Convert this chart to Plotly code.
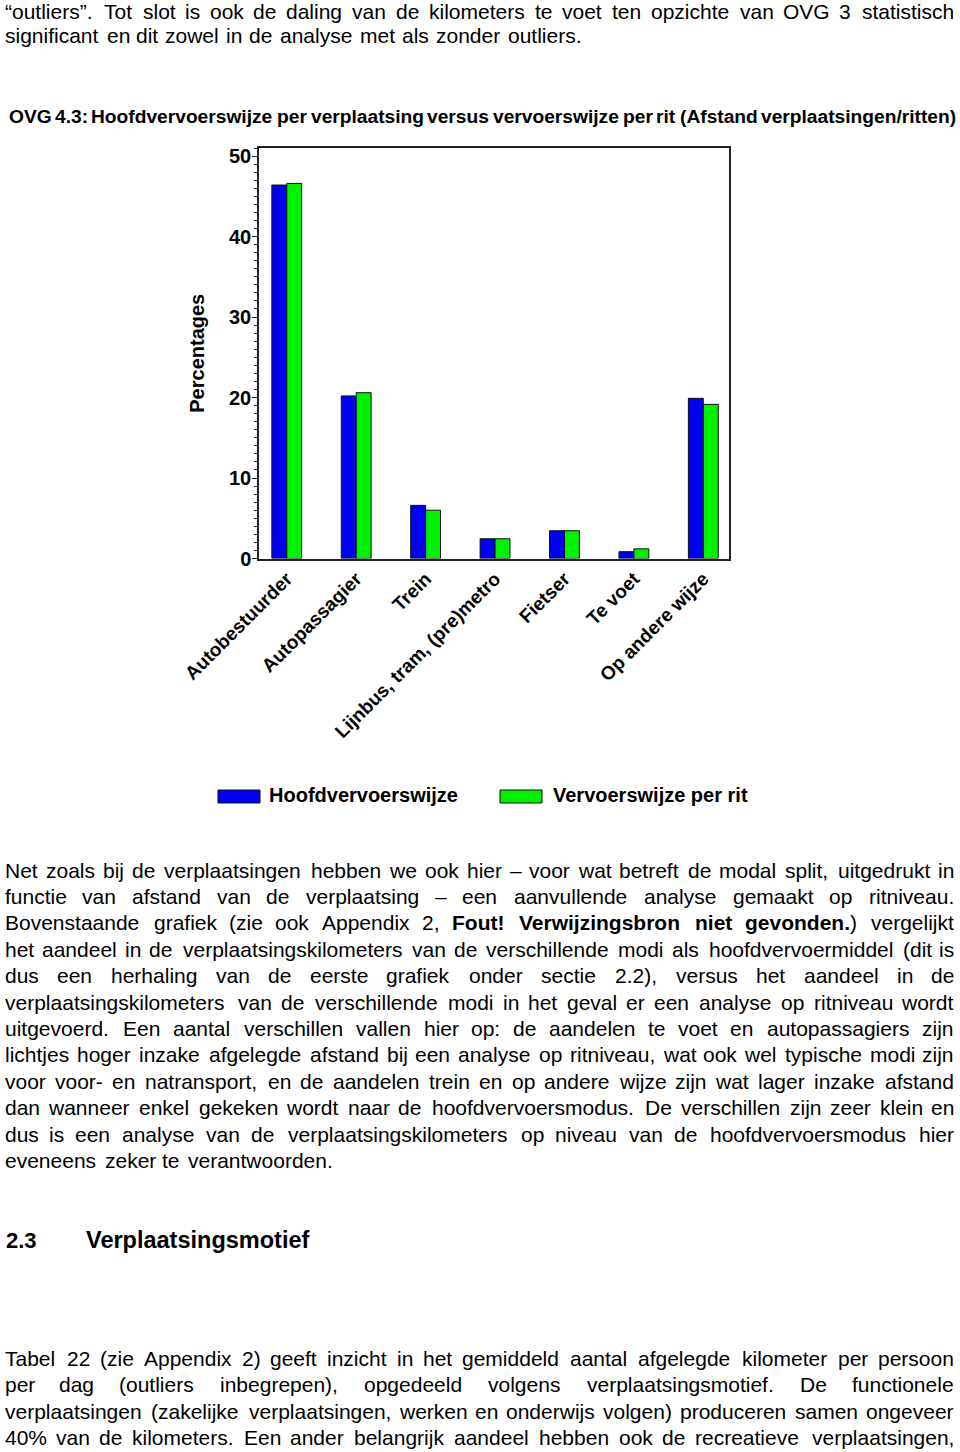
import plotly.graph_objects as go

W, H = 960, 1452

# ---------------- chart data ----------------
categories = ["Autobestuurder", "Autopassagier", "Trein", "Lijnbus, tram, (pre)metro",
              "Fietser", "Te voet", "Op andere wijze"]
hoofdvervoerswijze = [46.4, 20.2, 6.6, 2.45, 3.45, 0.85, 19.9]
vervoerswijze_per_rit = [46.6, 20.6, 6.0, 2.45, 3.45, 1.2, 19.15]
series_names = ["Hoofdvervoerswijze", "Vervoerswijze per rit"]
y_tick_values = [0, 10, 20, 30, 40, 50]
y_axis_title = "Percentages"
chart_title = ("OVG 4.3: Hoofdvervoerswijze per verplaatsing versus vervoerswijze "
               "per rit (Afstand verplaatsingen/ritten)")

# ---------------- page text ----------------
top_lines = [
    "“outliers”. Tot slot is ook de daling van de kilometers te voet ten opzichte van OVG 3 statistisch",
    "significant en dit zowel in de analyse met als zonder outliers.",
]
para1_lines = [
    "Net zoals bij de verplaatsingen hebben we ook hier – voor wat betreft de modal split, uitgedrukt in",
    "functie van afstand van de verplaatsing – een aanvullende analyse gemaakt op ritniveau.",
    "Bovenstaande grafiek (zie ook Appendix 2, <b>Fout! Verwijzingsbron niet gevonden.</b>) vergelijkt",
    "het aandeel in de verplaatsingskilometers van de verschillende modi als hoofdvervoermiddel (dit is",
    "dus een herhaling van de eerste grafiek onder sectie 2.2), versus het aandeel in de",
    "verplaatsingskilometers van de verschillende modi in het geval er een analyse op ritniveau wordt",
    "uitgevoerd. Een aantal verschillen vallen hier op: de aandelen te voet en autopassagiers zijn",
    "lichtjes hoger inzake afgelegde afstand bij een analyse op ritniveau, wat ook wel typische modi zijn",
    "voor voor- en natransport, en de aandelen trein en op andere wijze zijn wat lager inzake afstand",
    "dan wanneer enkel gekeken wordt naar de hoofdvervoersmodus. De verschillen zijn zeer klein en",
    "dus is een analyse van de verplaatsingskilometers op niveau van de hoofdvervoersmodus hier",
    "eveneens zeker te verantwoorden.",
]
heading_number = "2.3"
heading_text = "Verplaatsingsmotief"
para2_lines = [
    "Tabel 22 (zie Appendix 2) geeft inzicht in het gemiddeld aantal afgelegde kilometer per persoon",
    "per dag (outliers inbegrepen), opgedeeld volgens verplaatsingsmotief. De functionele",
    "verplaatsingen (zakelijke verplaatsingen, werken en onderwijs volgen) produceren samen ongeveer",
    "40% van de kilometers. Een ander belangrijk aandeel hebben ook de recreatieve verplaatsingen,",
]

# ---------------- styling ----------------
BLUE = "#0000F5"
GREEN = "#00F000"
FRAME = "#222222"
BODY_FONT = "Liberation Sans"
CHART_FONT = "Liberation Sans"

# Helvetica/Arial advance widths (1/1000 em)
_REG = {' ': 278, '!': 278, '"': 355, '%': 889, '(': 333, ')': 333, ',': 278, '-': 333, '.': 278,
        '/': 278, ':': 278, ';': 278, '?': 556, '“': 333, '”': 333, '–': 556}
_BOLD = {' ': 278, '!': 333, '%': 889, '(': 333, ')': 333, ',': 278, '-': 333, '.': 278,
         '/': 278, ':': 333, ';': 333, '?': 611, '“': 500, '”': 500, '–': 556}
for d in "0123456789":
    _REG[d] = 556
    _BOLD[d] = 556
_REG.update(dict(zip("ABCDEFGHIJKLMNOPQRSTUVWXYZ",
                     [667, 667, 722, 722, 667, 611, 778, 722, 278, 500, 667, 556, 833, 722, 778,
                      667, 778, 722, 667, 611, 722, 667, 944, 667, 667, 611])))
_REG.update(dict(zip("abcdefghijklmnopqrstuvwxyz",
                     [556, 556, 500, 556, 556, 278, 556, 556, 222, 222, 500, 222, 833, 556, 556,
                      556, 556, 333, 500, 278, 556, 500, 722, 500, 500, 500])))
_BOLD.update(dict(zip("ABCDEFGHIJKLMNOPQRSTUVWXYZ",
                      [722, 722, 722, 722, 667, 611, 778, 722, 278, 556, 722, 611, 833, 722, 778,
                       667, 778, 722, 667, 611, 722, 667, 944, 667, 667, 611])))
_BOLD.update(dict(zip("abcdefghijklmnopqrstuvwxyz",
                      [556, 611, 556, 611, 556, 333, 611, 611, 278, 278, 556, 278, 889, 611, 611,
                       611, 611, 389, 556, 333, 611, 556, 778, 556, 556, 500])))


def parse_words(line, bold_all=False):
    words, cur, bold, i = [], [], bold_all, 0
    while i < len(line):
        if line.startswith("<b>", i):
            bold = True
            i += 3
            continue
        if line.startswith("</b>", i):
            bold = bold_all
            i += 4
            continue
        ch = line[i]
        if ch == " ":
            if cur:
                words.append(cur)
                cur = []
        else:
            cur.append((ch, bold))
        i += 1
    if cur:
        words.append(cur)
    return words


def word_em(word):
    return sum((_BOLD if b else _REG).get(c, 556) for c, b in word) / 1000.0


def word_html(word, bold_all=False):
    if bold_all:
        return "".join(c for c, _ in word)
    out, state = "", False
    for c, b in word:
        if b != state:
            out += "<b>" if b else "</b>"
            state = b
        out += c
    if state:
        out += "</b>"
    return out


annotations = []
shapes = []


def px(x):
    return x / W


def py(y):
    return 1 - y / H


def place_line(line, yc, left, right, model, size, family, justify, bold_all=False):
    words = parse_words(line, bold_all)
    widths = [word_em(w) * model for w in words]
    if justify and len(words) > 1:
        gap = (right - left - sum(widths)) / (len(words) - 1)
    else:
        gap = 0.278 * model
    x = left
    n = len(words)
    for k, (w, wd) in enumerate(zip(words, widths)):
        if k == 0:
            xa, xx = "left", x
        elif k == n - 1 and justify:
            xa, xx = "right", right
        else:
            xa, xx = "center", x + wd / 2
        annotations.append(dict(
            text=word_html(w, bold_all), x=px(xx), y=py(yc), xref="paper", yref="paper",
            xanchor=xa, yanchor="middle", showarrow=False, borderpad=0,
            font=dict(family=family, size=size, color="black",
                      weight="bold" if bold_all else "normal")))
        x += wd + gap


BODY_MODEL = 21.6
BODY_SIZE = 21
LEFT, RIGHT = 4, 955

# top lines
place_line(top_lines[0], 11.5, LEFT, RIGHT, BODY_MODEL, BODY_SIZE, BODY_FONT, True)
place_line(top_lines[1], 35, LEFT, RIGHT, BODY_MODEL, BODY_SIZE, BODY_FONT, False)

# chart title (justified across the page width)
t_words = parse_words(chart_title, True)
t_em = sum(word_em(w) for w in t_words) + 0.2 * (len(t_words) - 1)
t_model = (957 - 8) / t_em
place_line(chart_title, 116, 8, 957, t_model, t_model, CHART_FONT, True, True)

# paragraph 1
for k, line in enumerate(para1_lines):
    place_line(line, 870 + 26.4 * k, LEFT, RIGHT, BODY_MODEL, BODY_SIZE, BODY_FONT,
               k < len(para1_lines) - 1)

# heading
annotations.append(dict(text="<b>%s</b>" % heading_number, x=px(21), y=py(1240), xref="paper",
                        yref="paper", xanchor="center", yanchor="middle", showarrow=False,
                        font=dict(family=BODY_FONT, size=22, color="black")))
annotations.append(dict(text="<b>%s</b>" % heading_text, x=px(197), y=py(1240), xref="paper",
                        yref="paper", xanchor="center", yanchor="middle", showarrow=False,
                        font=dict(family=BODY_FONT, size=23.5, color="black")))

# paragraph 2
for k, line in enumerate(para2_lines):
    place_line(line, 1358 + 26.6 * k, LEFT, RIGHT, BODY_MODEL, BODY_SIZE, BODY_FONT, True)

# legend (manual, wide swatches)
legend_items = [(series_names[0], BLUE, 218, 267), (series_names[1], GREEN, 500, 551)]
for name, col, sx, tx in legend_items:
    shapes.append(dict(type="rect", xref="paper", yref="paper", x0=px(sx), x1=px(sx + 42),
                       y0=py(803), y1=py(790), fillcolor=col, line=dict(color="#111", width=1)))
    annotations.append(dict(text=name, x=px(tx), y=py(795), xref="paper", yref="paper",
                            xanchor="left", yanchor="middle", showarrow=False,
                            font=dict(family=CHART_FONT, size=20, color="black", weight="bold")))

# ---------------- figure ----------------
fig = go.Figure()
fig.add_trace(go.Bar(x=categories, y=hoofdvervoerswijze, name=series_names[0],
                     marker=dict(color=BLUE, line=dict(color="#111111", width=1))))
fig.add_trace(go.Bar(x=categories, y=vervoerswijze_per_rit, name=series_names[1],
                     marker=dict(color=GREEN, line=dict(color="#111111", width=1))))

tick_font = dict(family=CHART_FONT, size=20, color="black", weight="bold")
fig.update_layout(
    width=W, height=H, margin=dict(l=0, r=0, t=0, b=0, autoexpand=False),
    paper_bgcolor="white", plot_bgcolor="white",
    barmode="group", bargap=0.57, bargroupgap=0.0,
    showlegend=False,
    annotations=annotations, shapes=shapes,
    xaxis=dict(domain=[px(259), px(729)], range=[-0.4, 6.37], type="category",
               automargin=False,
               tickangle=-45, tickfont=dict(family=CHART_FONT, size=19, color="black",
                                            weight="bold"),
               showline=True, linecolor=FRAME, linewidth=1.5, mirror=True,
               ticks="", showgrid=False, zeroline=False),
    yaxis=dict(domain=[py(558.5), py(148)], range=[0, 51], automargin=False,
               tickmode="array", tickvals=y_tick_values,
               ticks="outside", ticklen=5, tickwidth=1, tickcolor=FRAME,
               ticklabelstandoff=-3,
               minor=dict(tickmode="linear", tick0=0, dtick=1, ticks="outside", ticklen=3,
                          tickwidth=1, tickcolor=FRAME, showgrid=False),
               tickfont=tick_font,
               showline=True, linecolor=FRAME, linewidth=1.5, mirror=True,
               showgrid=False, zeroline=False,
               title=dict(text=y_axis_title, standoff=19,
                          font=dict(family=CHART_FONT, size=20, color="black",
                                    weight="bold"))),
)

# remove the default 8 px page margin so the figure fills the window exactly
fig.write_html("out.html",
               config={"displayModeBar": False},
               post_script="document.body.style.margin='0';document.body.style.overflow='hidden';")
